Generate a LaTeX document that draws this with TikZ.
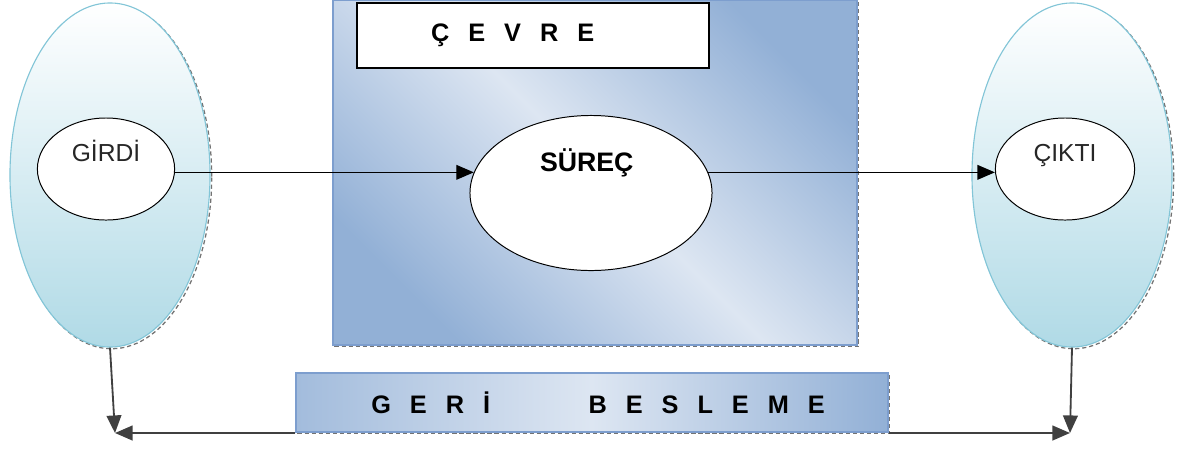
\documentclass[tikz,border=0pt]{standalone}
\usepackage{fontspec}
\setmainfont{Liberation Sans}
\usepackage{xcolor}
\usetikzlibrary{shapes.geometric}
\usetikzlibrary{arrows.meta}
\usetikzlibrary{shadows}

\definecolor{tealedge}{RGB}{130,197,215}
\definecolor{tealfill}{RGB}{176,218,230}
\definecolor{boxblue}{RGB}{146,176,214}
\definecolor{boxlight}{RGB}{221,230,242}
\definecolor{boxedge}{RGB}{125,158,206}

% spread out capitals
\newcommand{\gp}{\hspace{13.5pt}}

\begin{document}
\begin{tikzpicture}[x=0.025cm, y=-0.025cm,
  edgeshadow/.style={general shadow={draw=black!55, densely dashed, line width=0.9pt,
      shadow xshift=1.2pt, shadow yshift=-1.2pt}},
  outer/.style={ellipse, draw=tealedge, line width=0.8pt, inner sep=0pt,
      top color=white, bottom color=tealfill, middle color=tealfill!50!white,
      minimum width=5cm, minimum height=8.6cm, edgeshadow},
  inner/.style={ellipse, draw=black, line width=0.7pt, fill=white, inner sep=0pt},
  envbox/.style={rectangle, draw=boxedge, line width=1pt, inner sep=0pt,
      top color=boxblue, bottom color=boxblue, middle color=boxlight,
      shading angle=-45, edgeshadow},
  titlebox/.style={rectangle, draw=black, line width=0.9pt, fill=white, inner sep=0pt},
  fbbox/.style={rectangle, draw=boxedge, line width=1pt, inner sep=0pt,
      left color=boxblue!85, right color=boxblue, middle color=boxlight, edgeshadow},
  plain/.style={font=\fontsize{17.5}{20}\selectfont, text=black!85, anchor=base, inner sep=0pt},
  bold/.style={font=\fontsize{18}{21}\selectfont\bfseries, anchor=base, inner sep=0pt},
  flow/.style={-{Triangle[length=12.5pt,width=10.5pt]}, line width=1pt},
  back/.style={flow, draw=black!75, line width=1.3pt}]

  \useasboundingbox (0,0) rectangle (1196,450);

  % input and output sides
  \node[outer] (inbig) at (110,175) {};
  \node[outer] (outbig) at (1072,175) {};
  \node[inner, minimum width=3.43cm, minimum height=2.55cm] (girdi) at (106,169) {};
  \node[inner, minimum width=3.48cm, minimum height=2.55cm] (cikti) at (1065,169) {};

  % environment with the process in it
  \node[envbox, minimum width=13.1cm, minimum height=8.625cm] (cevrebox) at (595,172.5) {};
  \node[titlebox, minimum width=8.8cm, minimum height=1.625cm] (cevre) at (533,35.5) {};
  \node[inner, minimum width=6.05cm, minimum height=3.875cm] (surec) at (591,193) {};

  % feedback bar
  \node[fbbox, minimum width=14.8cm, minimum height=1.475cm] (geri) at (592,402.5) {};

  % texts
  \node[plain] (girdilbl) at ([yshift=5.3pt]girdi.center) {GİRDİ};
  \node[plain] (ciktilbl) at ([yshift=5.3pt]cikti.center) {ÇIKTI};
  \node[bold, font=\fontsize{19}{22}\selectfont\bfseries] (sureclbl) at ([xshift=-3pt, yshift=15.6pt]surec.center) {SÜREÇ};
  \node[bold] (cevrelbl) at ([xshift=-14.5pt, yshift=-4.2pt]cevre.center) {Ç\gp E\gp V\gp R\gp E};
  \node[bold] (gerilbl) at ([xshift=4.3pt, yshift=-7.6pt]geri.center)
    {G\gp E\gp R\gp İ\hspace{70pt}B\gp E\gp S\gp L\gp E\gp M\gp E};

  % main flow
  \draw[flow] (girdi.east |- surec.170) -- (surec.170);
  \draw[flow] (surec.10) -- (cikti.west |- surec.10);

  % feedback loop
  \coordinate (fbl) at (115,433);
  \coordinate (fbr) at (1070,433);
  \draw[back] (inbig.south) -- (fbl);
  \draw[back] (geri.west |- fbl) -- (fbl);
  \draw[back] (outbig.south) -- (fbr);
  \draw[back] (geri.east |- fbl) -- (fbr);
\end{tikzpicture}
\end{document}
